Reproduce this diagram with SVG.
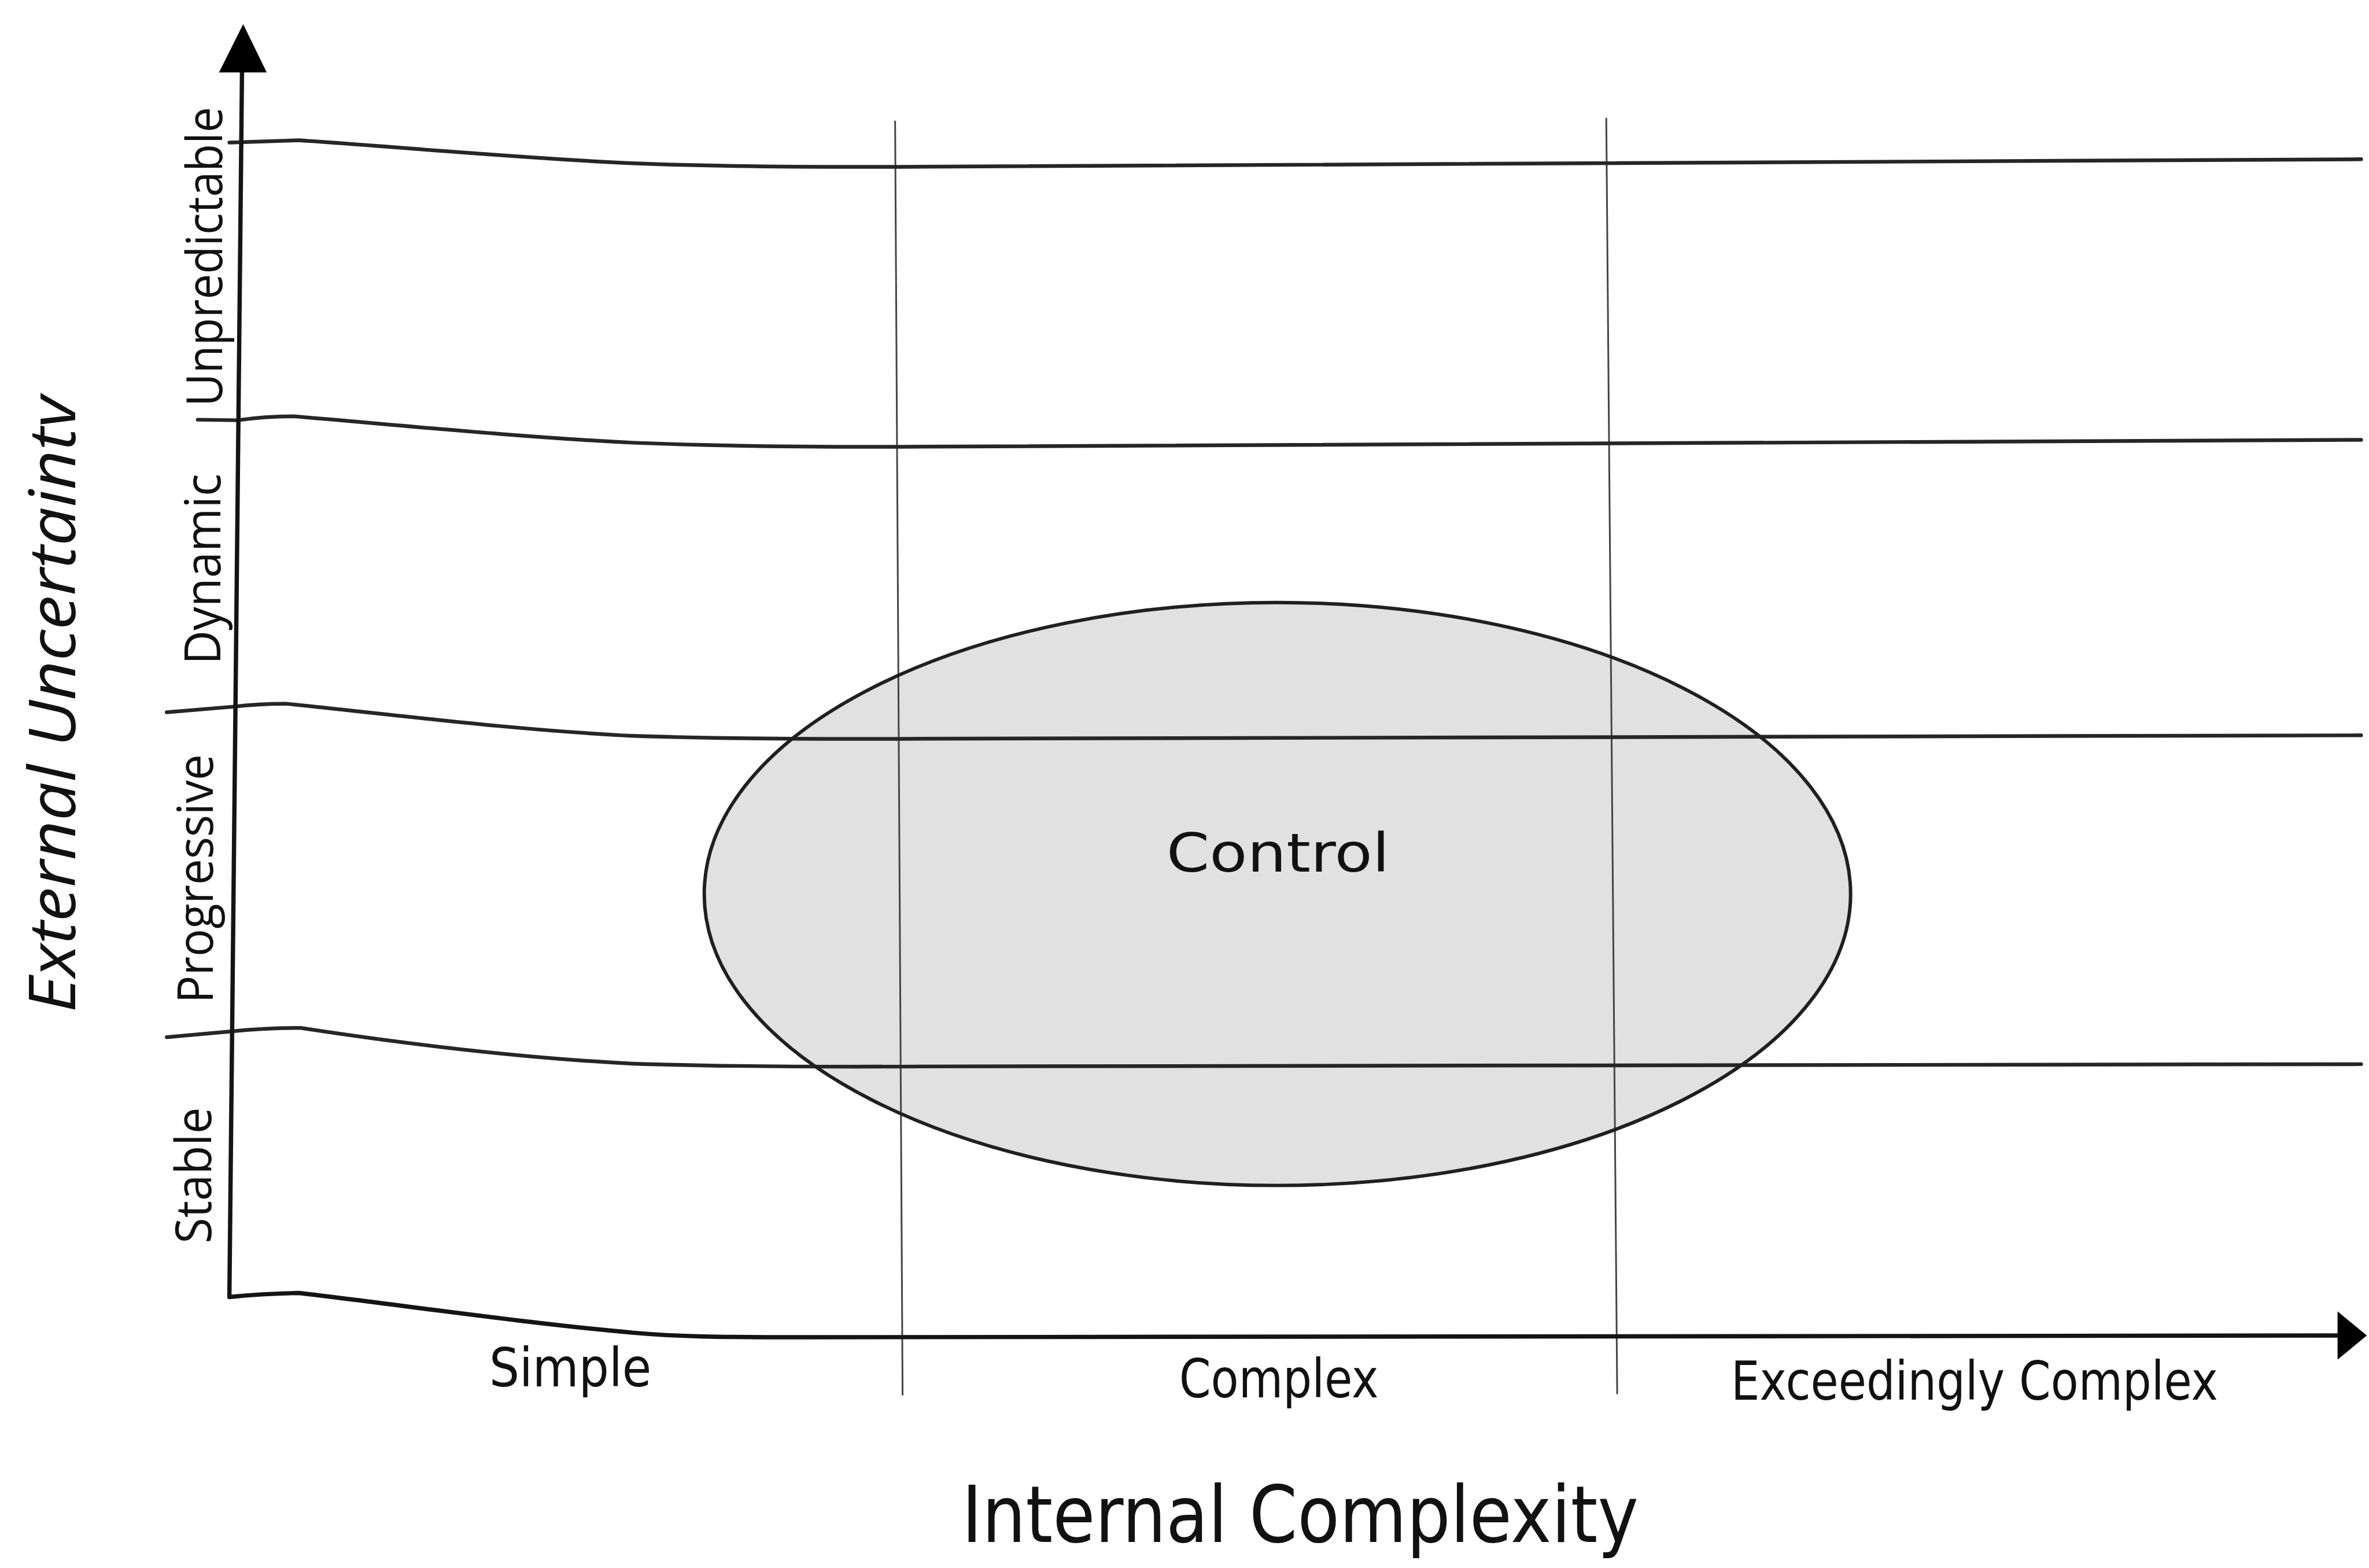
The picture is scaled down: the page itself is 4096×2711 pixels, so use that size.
<svg xmlns="http://www.w3.org/2000/svg" width="4096" height="2711" viewBox="0 0 4096 2711">
<defs>
<style>
.band{fill:none;stroke:#262626;stroke-width:6.5;stroke-linejoin:round;stroke-linecap:round}
.axis{fill:none;stroke:#141414;stroke-width:7.5;stroke-linejoin:round}
.grid{fill:none;stroke:#444;stroke-width:3}
.head{fill:#000}
.ylab{font-family:"Open Sans","Noto Sans","DejaVu Sans",sans-serif;font-size:86px;fill:#111}
.xlab{font-family:"DejaVu Sans","Liberation Sans",sans-serif;font-size:94px;fill:#111}
.title{font-family:"DejaVu Sans","Liberation Sans",sans-serif;font-size:137px;fill:#111}
.ytitle{font-family:"Open Sans","Noto Sans","DejaVu Sans",sans-serif;font-size:112px;font-style:italic;fill:#111}
</style>
</defs>
<rect width="4096" height="2711" fill="#ffffff"/>
<g transform="scale(0.994)">
  <g id="node-control-area">
    <ellipse cx="2222" cy="1555" rx="997" ry="507" fill="#e1e1e1"/>
  </g>
  <g id="connectors">
    <path class="grid" d="M1557,210 L1570,2427"/>
    <path class="grid" d="M2794,205 L2813,2425"/>
    <path class="band" d="M399,248 L520,244 C700,256 900,275 1100,284 C1250,290 1400,291 1600,290 L4107,277"/>
    <path class="band" d="M344,730 L413,731 Q460,724 510,724 C700,740 900,760 1100,770 C1250,776 1400,778 1600,777 L4107,765"/>
    <path class="band" d="M290,1239 L408,1229 Q450,1224 497,1224 C700,1245 900,1270 1100,1280 C1250,1285 1400,1286 1600,1285 L4107,1279"/>
    <path class="band" d="M290,1804 L402,1794 Q460,1788 523,1788 C700,1815 900,1840 1100,1850 C1250,1855 1400,1856 1600,1855 L4107,1851"/>
    <path class="axis" d="M421,120 L399,2256 Q460,2250 520,2249 C700,2270 900,2300 1100,2318 C1180,2325 1250,2326 1400,2326 L4070,2323"/>
    <polygon class="head" points="381,126 423,42 464,126"/>
    <polygon class="head" points="4066,2281 4117,2323 4066,2365"/>
  </g>
  <g id="node-control">
    <ellipse cx="2222" cy="1555" rx="997" ry="507" fill="none" stroke="#202020" stroke-width="6"/>
    <text class="xlab" x="2029" y="1516" font-size="122" textLength="388" lengthAdjust="spacingAndGlyphs">Control</text>
  </g>
  <g id="y-labels">
    <text class="ylab" transform="translate(386,707) rotate(-90)" textLength="521" lengthAdjust="spacingAndGlyphs">Unpredictable</text>
    <text class="ylab" transform="translate(383,1156) rotate(-90)" textLength="332" lengthAdjust="spacingAndGlyphs">Dynamic</text>
    <text class="ylab" transform="translate(370,1745) rotate(-90)" textLength="433" lengthAdjust="spacingAndGlyphs">Progressive</text>
    <text class="ylab" transform="translate(367,2163) rotate(-90)" textLength="237" lengthAdjust="spacingAndGlyphs">Stable</text>
    <text class="ytitle" transform="translate(131,1761) rotate(-90)" textLength="1072" lengthAdjust="spacingAndGlyphs">External Uncertaintv</text>
  </g>
  <g id="x-labels">
    <text class="xlab" x="851" y="2411" textLength="282" lengthAdjust="spacingAndGlyphs">Simple</text>
    <text class="xlab" x="2051" y="2431" textLength="347" lengthAdjust="spacingAndGlyphs">Complex</text>
    <text class="xlab" x="3011" y="2435" font-size="90" textLength="847" lengthAdjust="spacingAndGlyphs">Exceedingly Complex</text>
    <text class="title" x="1673" y="2682" textLength="1177" lengthAdjust="spacingAndGlyphs">Internal Complexity</text>
  </g>
</g>
</svg>
